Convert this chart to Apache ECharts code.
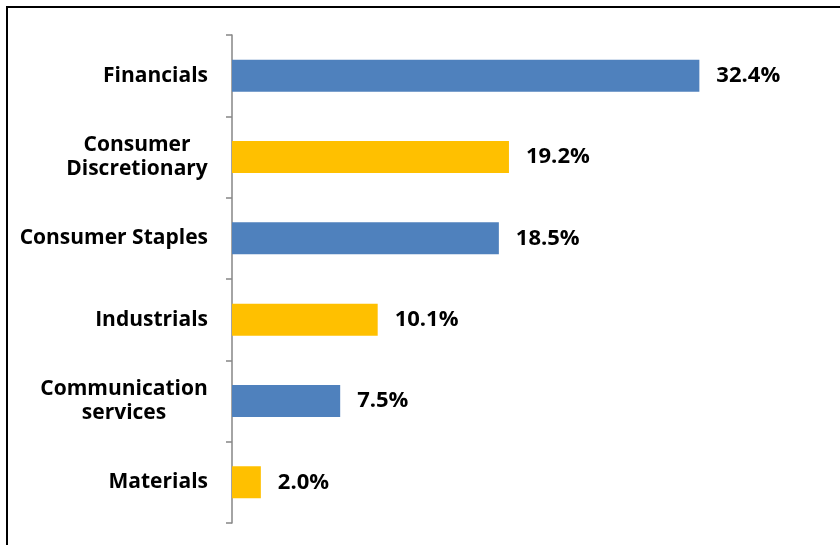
<!DOCTYPE html>
<html>
<head>
<meta charset="utf-8">
<script src="https://cdn.jsdelivr.net/npm/echarts@6/dist/echarts.min.js"></script>
<style>
html,body{margin:0;padding:0;background:#fff;}
#chart{width:840px;height:545px;}
</style>
</head>
<body>
<div id="chart"></div>
<script>
const categories = ['Financials', 'Consumer\nDiscretionary', 'Consumer Staples', 'Industrials', 'Communication\nservices', 'Materials'];
const values = [32.4, 19.2, 18.5, 10.1, 7.5, 2.0];
const barColors = ['#4F81BD', '#FFC000', '#4F81BD', '#FFC000', '#4F81BD', '#FFC000'];

const FONT_FAMILY = 'Open Sans';
const FONT_SIZE = 21;
const measureCtx = document.createElement('canvas').getContext('2d');
measureCtx.font = 'bold ' + FONT_SIZE + 'px "' + FONT_FAMILY + '"';
function lineWidth(t) { return Math.ceil(measureCtx.measureText(t).width); }

const chart = echarts.init(document.getElementById('chart'));
const option = {
  backgroundColor: '#ffffff',
  animation: false,
  graphic: [{
    type: 'polyline',
    shape: { points: [[7, 560], [7, 7], [860, 7]] },
    style: { stroke: '#000', lineWidth: 2, fill: null }
  }],
  grid: { left: 232, right: 31, top: 35, bottom: 22, containLabel: false },
  xAxis: {
    type: 'value', min: 0, max: 40, show: false
  },
  yAxis: {
    type: 'category',
    data: categories,
    inverse: true,
    axisLine: { show: true, lineStyle: { color: '#868686', width: 1.5 } },
    axisTick: { show: true, length: 6, alignWithLabel: false, lineStyle: { color: '#868686', width: 1.5 } },
    splitLine: { show: false },
    axisLabel: {
      margin: 24,
      color: '#000',
      fontFamily: FONT_FAMILY,
      fontWeight: 'bold',
      fontSize: FONT_SIZE,
      lineHeight: 24,
      formatter: function (v) {
        const lines = v.split('\n');
        if (lines.length === 1) return v;
        const w = Math.max.apply(null, lines.map(lineWidth));
        return lines.map(l => '{c' + w + '|' + l + '}').join('\n');
      },
      rich: (function () {
        const r = {};
        categories.forEach(c => {
          const lines = c.split('\n');
          if (lines.length > 1) {
            const w = Math.max.apply(null, lines.map(lineWidth));
            r['c' + w] = {
              fontFamily: FONT_FAMILY, fontWeight: 'bold', fontSize: FONT_SIZE, color: '#000',
              lineHeight: 24, align: 'center', width: w
            };
          }
        });
        return r;
      })()
    }
  },
  series: [{
    type: 'bar',
    data: values.map((v, i) => ({ value: v, itemStyle: { color: barColors[i] } })),
    barWidth: 32,
    label: {
      show: true, position: 'right', distance: 17,
      color: '#000', fontFamily: FONT_FAMILY, fontWeight: 'bold', fontSize: 22,
      formatter: p => p.value.toFixed(1) + '%'
    }
  }]
};
chart.setOption(option);
</script>
</body>
</html>
